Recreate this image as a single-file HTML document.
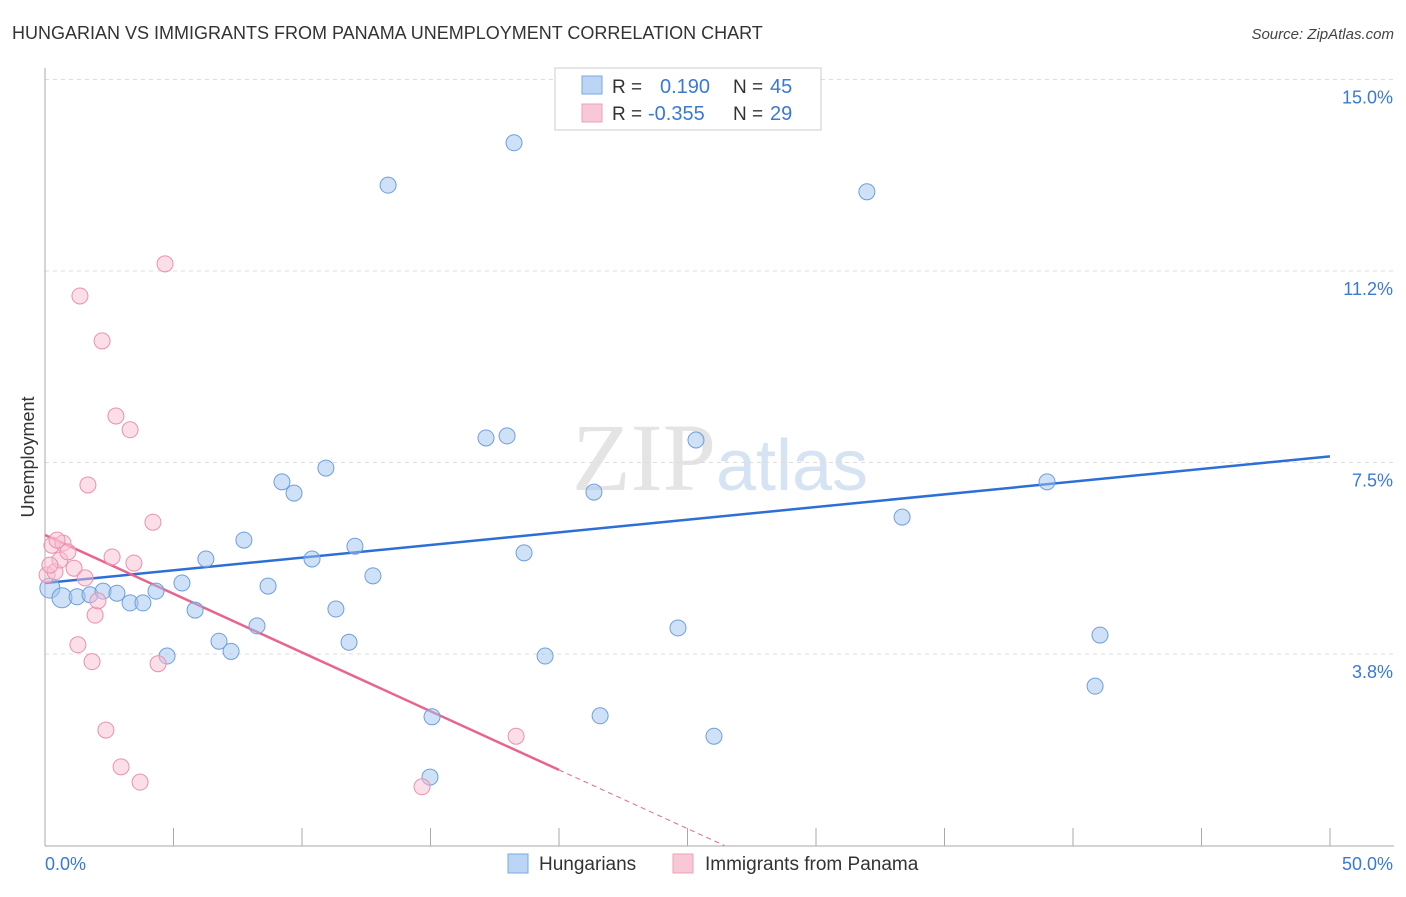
<!DOCTYPE html>
<html><head><meta charset="utf-8"><style>
body{margin:0;background:#fff;font-family:"Liberation Sans",sans-serif;}
svg text{font-family:"Liberation Sans",sans-serif;}
</style></head><body>
<svg id="chart" width="1406" height="892" xmlns="http://www.w3.org/2000/svg">
<text x="12" y="39" font-size="18" fill="#333">HUNGARIAN VS IMMIGRANTS FROM PANAMA UNEMPLOYMENT CORRELATION CHART</text>
<text x="1394" y="39" font-size="15" fill="#444" text-anchor="end" font-style="italic">Source: ZipAtlas.com</text>
<text x="720" y="490" font-size="96" text-anchor="middle" fill="#e4e4e4"><tspan font-family="Liberation Serif">ZIP</tspan><tspan fill="#d6e3f3" font-size="72">atlas</tspan></text>
<text transform="translate(34,457) rotate(-90)" font-size="18" fill="#333" text-anchor="middle">Unemployment</text>
<g id="grid"></g><g id="axes"></g><g id="trend"></g><g id="pts"></g>
<g>
<rect x="555" y="68" width="266" height="62" fill="#fff" stroke="#ccc"/>
<rect x="582" y="76" width="20" height="18" fill="#bcd4f5" stroke="#7da7e0"/>
<text x="612" y="93" font-size="19" fill="#333">R = </text><text x="660" y="93" font-size="20" fill="#3a78d8">0.190</text>
<text x="733" y="93" font-size="19" fill="#333">N = </text><text x="770" y="93" font-size="20" fill="#3a78d8">45</text>
<rect x="582" y="104" width="20" height="18" fill="#f9c8d7" stroke="#eea0b8"/>
<text x="612" y="120" font-size="19" fill="#333">R = </text><text x="648" y="120" font-size="20" fill="#3a78d8">-0.355</text>
<text x="733" y="120" font-size="19" fill="#333">N = </text><text x="770" y="120" font-size="20" fill="#3a78d8">29</text>
</g>
<g>
<rect x="508" y="854" width="20" height="19" fill="#bcd4f5" stroke="#7da7e0"/>
<text x="539" y="870" font-size="19" fill="#333">Hungarians</text>
<rect x="673" y="854" width="20" height="19" fill="#f9c8d7" stroke="#eea0b8"/>
<text x="705" y="870" font-size="19" fill="#333">Immigrants from Panama</text>
</g>
</svg>
<script>
const hx=[0.19,0.66,1.25,1.75,2.26,2.80,3.31,3.81,4.32,4.75,5.33,5.84,6.26,6.77,7.24,7.74,8.25,8.68,9.22,9.69,10.39,10.93,11.32,11.83,12.06,12.76,13.35,15.06,14.98,17.16,17.98,18.25,18.64,19.46,21.36,21.60,22.53,24.63,25.33,26.03,31.98,33.35,38.99,40.86,41.05];
const hy=[5.04,4.85,4.87,4.91,4.98,4.94,4.75,4.75,4.98,3.71,5.14,4.61,5.61,4.0,3.80,5.98,4.30,5.08,7.12,6.90,5.61,7.39,4.63,3.98,5.86,5.28,12.93,2.52,1.34,7.98,8.02,13.76,5.73,3.71,6.92,2.54,14.99,4.26,7.94,2.14,12.80,6.43,7.12,3.12,4.12];
const px=[0.08,0.27,0.39,0.58,0.70,0.89,1.13,1.56,1.36,1.67,1.95,2.06,1.28,1.83,2.22,2.37,2.61,2.76,2.96,3.31,3.46,3.70,4.20,4.40,4.67,14.67,18.33,0.19,0.47];
const py=[5.30,5.88,5.36,5.59,5.92,5.75,5.43,5.24,10.76,7.06,4.51,4.79,3.93,3.60,9.88,2.26,5.65,8.41,1.54,8.14,5.53,1.24,6.33,3.56,11.39,1.15,2.14,5.49,5.98];
const yTicks=[3.75,7.5,11.25,15];
const yTickLabels=["3.8%","7.5%","11.2%","15.0%"];
const xTicks=[0,5,10,15,20,25,30,35,40,45,50];
const blueTrend=[5.14,7.62];
const pinkTrend=[6.08,-0.23];
const X=v=>45+v*25.7, Y=v=>845.5-v*51.07;
const NS="http://www.w3.org/2000/svg";
function mk(p,t,a){const e=document.createElementNS(NS,t);for(const k in a)e.setAttribute(k,a[k]);document.getElementById(p).appendChild(e);return e;}
yTicks.forEach((t,i)=>{
 const l=mk('grid','line',{x1:45,x2:1394,y1:Y(t),y2:Y(t),stroke:'#ddd','stroke-dasharray':'4,4'});
 
 
 const tx=mk('grid','text',{x:1393,y:Y(t)+24,'font-size':18,fill:'#3a78d8','text-anchor':'end'});tx.textContent=yTickLabels[i];
 
 
});
let ax=mk('axes','line',{x1:45,x2:45,y1:68,y2:846,stroke:'#aaa'});


ax=mk('axes','line',{x1:45,x2:1394,y1:846,y2:846,stroke:'#aaa'});


xTicks.forEach(t=>{const l=mk('axes','line',{x1:X(t),x2:X(t),y1:828,y2:846,stroke:'#aaa'});
 
 });
let t0=mk('axes','text',{x:45,y:870,'font-size':18,fill:'#3a78d8'});t0.textContent=xTicks[0].toFixed(1)+'%';


t0=mk('axes','text',{x:1393,y:870,'font-size':18,fill:'#3a78d8','text-anchor':'end'});t0.textContent=xTicks[xTicks.length-1].toFixed(1)+'%';


hx.forEach((v,i)=>{const c=mk('pts','circle',{cx:X(v),cy:Y(hy[i]),r:i<2?10:8,fill:'rgba(160,195,240,0.5)',stroke:'#6f9fdc','stroke-width':1});
 
 });
px.forEach((v,i)=>{const c=mk('pts','circle',{cx:X(v),cy:Y(py[i]),r:8,fill:'rgba(248,190,210,0.5)',stroke:'#ea91ae','stroke-width':1});
 
 });
let b=mk('trend','line',{x1:X(0),y1:Y(blueTrend[0]),x2:X(50),y2:Y(blueTrend[1]),stroke:'#2d6fd6','stroke-width':2.5});


const pe=20, pz=-pinkTrend[0]/pinkTrend[1];
b=mk('trend','line',{x1:X(0),y1:Y(pinkTrend[0]),x2:X(pe),y2:Y(pinkTrend[0]+pinkTrend[1]*pe),stroke:'#e8648f','stroke-width':2.5});


b=mk('trend','line',{x1:X(pe),y1:Y(pinkTrend[0]+pinkTrend[1]*pe),x2:X(pz),y2:Y(0),stroke:'#e8648f','stroke-width':1,'stroke-dasharray':'5,4'});


</script>
</body></html>
